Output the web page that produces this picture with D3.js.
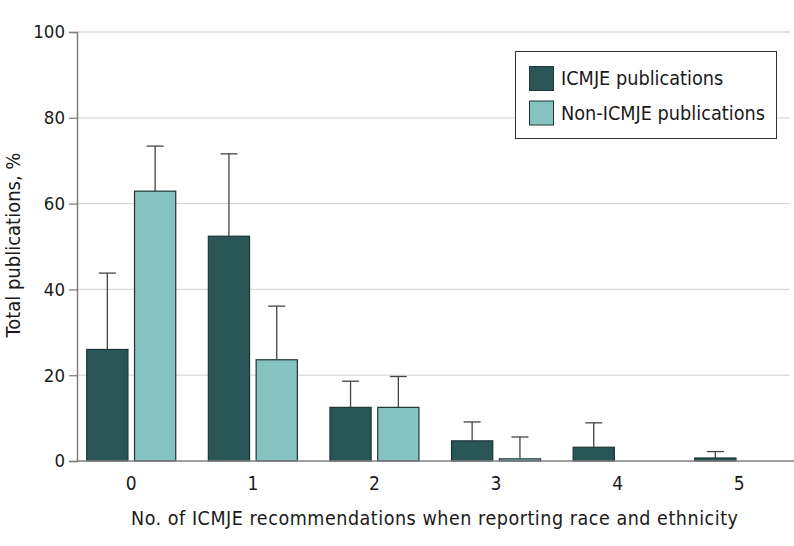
<!DOCTYPE html>
<html><head><meta charset="utf-8">
<script src="https://cdn.jsdelivr.net/npm/d3@7"></script>
<style>body{margin:0;background:#fff}svg{display:block}text{font-family:"DejaVu Sans Condensed","Liberation Sans Narrow",sans-serif;fill:#1a1a1a}</style>
</head><body><svg id="c" width="794" height="546"></svg>
<script>
const categories = ["0","1","2","3","4","5"];
const seriesNames = ["ICMJE publications","Non-ICMJE publications"];
const icmje = [26.0, 52.4, 12.5, 4.7, 3.2, 0.7];
const icmjeErr = [43.8, 71.6, 18.6, 9.1, 8.9, 2.2];
const nonIcmje = [62.9, 23.6, 12.5, 0.5, 0, 0];
const nonIcmjeErr = [73.4, 36.1, 19.7, 5.6, null, null];
const yTicks = [0,20,40,60,80,100];
const colors = ["#2a5555","#85c3c1"];

(function(){
const svg = d3.select("#c");
const mL = 77, mR = 794, mT = 32, mB = 461;
const y = d3.scaleLinear().domain([0,100]).range([mB, mT]);
const x = d3.scaleBand().domain(categories).range([mL, 793.5]).paddingInner(0.268).paddingOuter(0.08);
const xs = d3.scaleBand().domain([0,1]).range([0, x.bandwidth()]).paddingInner(0.138);

svg.append("g").selectAll("line").data(yTicks.filter(d=>d>0)).join("line")
  .attr("x1", mL).attr("x2", 790).attr("y1", d=>y(d)).attr("y2", d=>y(d))
  .attr("stroke", "#d9d9d9").attr("stroke-width", 1.3);

const ya = svg.append("g").attr("transform", `translate(${mL},0)`)
  .call(d3.axisLeft(y).tickValues(yTicks).tickSize(8).tickPadding(4));
ya.select(".domain").attr("stroke", "#808080").attr("stroke-width", 1.5);
ya.selectAll(".tick line").attr("stroke", "#808080").attr("stroke-width", 1.3);
ya.selectAll(".tick text").attr("font-size", 18.5).attr("font-family", null).attr("fill", "#1a1a1a");

const series = [
  {vals: icmje, errs: icmjeErr, i: 0},
  {vals: nonIcmje, errs: nonIcmjeErr, i: 1}
];
const g = svg.append("g");
series.forEach(s => {
  categories.forEach((c, k) => {
    const v = s.vals[k];
    const bx = x(c) + xs(s.i), bw = xs.bandwidth();
    if (s.errs[k] != null) {
      const cx = bx + bw/2;
      g.append("line").attr("x1", cx).attr("x2", cx).attr("y1", y(v)).attr("y2", y(s.errs[k]))
        .attr("stroke", "#444").attr("stroke-width", 1.3);
      g.append("line").attr("x1", cx-8.5).attr("x2", cx+8.5).attr("y1", y(s.errs[k])).attr("y2", y(s.errs[k]))
        .attr("stroke", "#444").attr("stroke-width", 1.3);
    }
    if (v > 0) {
      g.append("rect").attr("x", bx).attr("y", y(v)).attr("width", bw).attr("height", y(0)-y(v))
        .attr("fill", colors[s.i]).attr("stroke", "#1f3434").attr("stroke-width", 1.2);
    }
  });
});

svg.append("line").attr("x1", mL).attr("x2", mR).attr("y1", y(0)).attr("y2", y(0))
  .attr("stroke", "#808080").attr("stroke-width", 1.5);

svg.append("g").selectAll("text").data(categories).join("text")
  .attr("x", d => x(d) + x.bandwidth()/2).attr("y", 490)
  .attr("text-anchor", "middle").attr("font-size", 19).text(d => d);

svg.append("text").attr("x", 131).attr("y", 525).attr("font-size", 19.5)
  .attr("textLength", 607).attr("lengthAdjust", "spacing")
  .text("No. of ICMJE recommendations when reporting race and ethnicity");
svg.append("text").attr("transform", "translate(20,245) rotate(-90)").attr("text-anchor", "middle").attr("font-size", 20)
  .text("Total publications, %");

const lg = svg.append("g");
lg.append("rect").attr("x", 515.5).attr("y", 51.5).attr("width", 261).attr("height", 87)
  .attr("fill", "#fff").attr("stroke", "#333").attr("stroke-width", 1);
seriesNames.forEach((n, i) => {
  lg.append("rect").attr("x", 529.5).attr("y", 66.5 + i*34.5).attr("width", 24).attr("height", 24)
    .attr("fill", colors[i]).attr("stroke", "#1f3434").attr("stroke-width", 1);
  lg.append("text").attr("x", 561).attr("y", 85 + i*34.5).attr("font-size", 19.7).text(n);
});
})();
</script></body></html>
